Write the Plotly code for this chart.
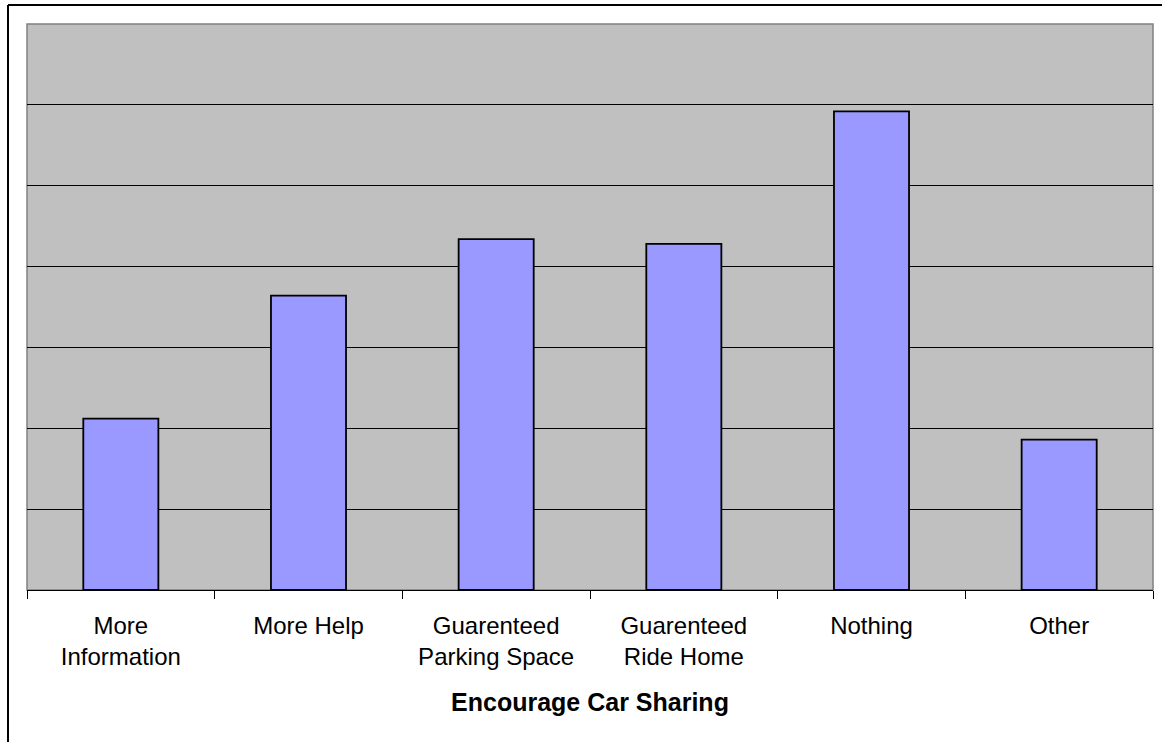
import plotly.graph_objects as go

categories = ["More<br>Information", "More Help", "Guarenteed<br>Parking Space",
              "Guarenteed<br>Ride Home", "Nothing", "Other"]
values = [10.6, 18.2, 21.7, 21.4, 29.6, 9.3]
grid_vals = [5, 10, 15, 20, 25, 30]

W, H = 1162, 742
ml, mr, mt, mb = 27, 9, 24, 152
pw, ph = W - ml - mr, H - mt - mb

fig = go.Figure(go.Bar(
    x=categories, y=values,
    marker=dict(color="#9999FF", line=dict(color="black", width=1.8)),
))

# outer frame (left + top only visible in reference)
bx = (8 - ml) / pw
by = (H - mb - 5) / ph
fig.add_shape(type="line", xref="paper", yref="paper", x0=bx, x1=bx, y0=-0.5, y1=by,
              line=dict(color="black", width=2))
fig.add_shape(type="line", xref="paper", yref="paper", x0=bx, x1=1.2, y0=by, y1=by,
              line=dict(color="black", width=2))
# plot area border
fig.add_shape(type="rect", xref="paper", yref="paper", x0=0, x1=1, y0=0, y1=1,
              line=dict(color="#808080", width=1.5), layer="below")

fig.update_layout(
    width=W, height=H,
    margin=dict(l=ml, r=mr, t=mt, b=mb),
    paper_bgcolor="white", plot_bgcolor="#C0C0C0",
    bargap=0.6, showlegend=False,
    font=dict(family="Liberation Sans, Arial", color="black", size=24),
    xaxis=dict(
        tickson="boundaries", ticks="outside", ticklen=8, tickcolor="black",
        showline=True, linecolor="black", linewidth=1,
        showgrid=False, tickfont=dict(size=24), ticklabelstandoff=14,
        title=dict(text="<b>Encourage Car Sharing</b>", font=dict(size=25), standoff=24),
    ),
    yaxis=dict(
        range=[0, 35], tickvals=grid_vals, showticklabels=False,
        showgrid=True, gridcolor="black", gridwidth=1, zeroline=False,
        ticks="",
    ),
)

# the page has a default 8px body margin; drop it so the figure fills the window
fig.write_html("out.html", config={"displayModeBar": False},
               post_script="document.body.style.margin='0';")
